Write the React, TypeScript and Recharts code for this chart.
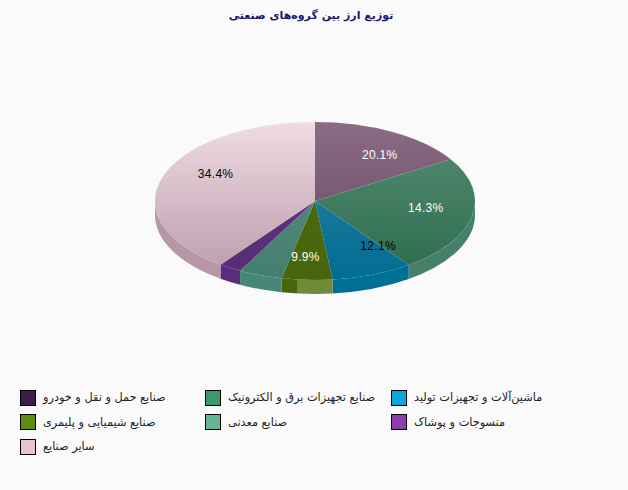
import { PieChart, Pie, Legend } from 'recharts';

const TITLE = 'توزیع ارز بین گروه‌های  صنعتی';

const categories = [
  'صنایع حمل و نقل و خودرو',
  'صنایع تجهیزات برق و الکترونیک',
  'ماشین‌آلات و تجهیزات تولید',
  'صنایع شیمیایی و پلیمری',
  'صنایع معدنی',
  'منسوجات و پوشاک',
  'سایر صنایع',
];

// slice sizes as measured from the drawn pie, they don't agree with the printed labels
const sliceShares = [16.1, 23.9, 8.2, 5.1, 4.4, 2.3, 39.9];
const printedLabels = ['20.1%', '14.3%', '12.1%', '9.9%', '', '', '34.4%'];

const LEGEND_COLORS = ['#3f1d4b', '#3a9a6a', '#0aa6dc', '#5e8c10', '#66b594', '#8a3fae', '#e8c3d3'];
const TOP_COLORS = [
  ['#8a6c84', '#6a445f'],
  ['#548f76', '#2e6a4b'],
  ['#2f86a6', '#006c92'],
  ['#4f6d14', '#47650c'],
  ['#5f9082', '#437e6f'],
  ['#5f3a80', '#582c76'],
  ['#f0dbe4', '#b99ba9'],
];
const WALL_COLORS = ['#5a3a55', '#45806a', '#006f96', '', '#47877a', '#5a2d7c', '#b797a5'];
const LABEL_COLORS = ['#fff', '#fff', '#000', '#fff', '#000', '#000', '#000'];
// small hand nudges so the printed labels land where the original puts them
const LABEL_NUDGE = [[12, 1], [4, -3], [24, -5], [-4, 2], [0, 0], [0, 0], [4, -10]];
const LEGEND_COLS = [20, 205, 391];

const W = 628;
const H = 490;
const CX = 315;
const CY = 201;
const RX = 160;
const RY = 79;
const DEPTH = 14;
const LABEL_R = 0.68;
const FONT = '"DejaVu Sans", sans-serif';

const chartData = categories.map((name, i) => ({ name, share: sliceShares[i], label: printedLabels[i] }));

const pt = (t: number, cx: number, cy: number, rx: number) => {
  const a = (t * Math.PI) / 180;
  return [cx + rx * Math.sin(a), cy - rx * (RY / RX) * Math.cos(a)];
};

// the circle recharts hands us gets squashed into the tilted ellipse
function TopSlice(props: any) {
  const { cx, cy, outerRadius, startAngle, endAngle, index } = props;
  const t0 = 90 - startAngle;
  const t1 = 90 - endAngle;
  const [x0, y0] = pt(t0, cx, cy, outerRadius);
  const [x1, y1] = pt(t1, cx, cy, outerRadius);
  const ry = outerRadius * (RY / RX);
  const large = t1 - t0 > 180 ? 1 : 0;
  return (
    <path
      d={`M${cx},${cy}L${x0},${y0}A${outerRadius},${ry} 0 ${large} 1 ${x1},${y1}Z`}
      fill={`url(#top${index})`}
    />
  );
}

function WallSlice(props: any) {
  const { cx, cy, outerRadius, startAngle, endAngle, index } = props;
  const t0 = Math.max(90 - startAngle, 90);
  const t1 = Math.min(90 - endAngle, 270);
  if (t1 <= t0) return <g />;
  const [x0, y0] = pt(t0, cx, cy, outerRadius);
  const [x1, y1] = pt(t1, cx, cy, outerRadius);
  const ry = outerRadius * (RY / RX);
  const fill = index === 3 ? 'url(#oliveWall)' : WALL_COLORS[index];
  return (
    <path
      d={`M${x0},${y0}A${outerRadius},${ry} 0 0 1 ${x1},${y1}L${x1},${y1 + DEPTH}A${outerRadius},${ry} 0 0 0 ${x0},${y0 + DEPTH}Z`}
      fill={fill}
    />
  );
}

function SliceLabel(props: any) {
  const { cx, cy, outerRadius, midAngle, index } = props;
  const text = printedLabels[index];
  if (!text) return <g />;
  const [x, y] = pt(90 - midAngle, cx, cy, outerRadius * LABEL_R);
  return (
    <text
      x={x + LABEL_NUDGE[index][0]}
      y={y + LABEL_NUDGE[index][1]}
      fill={LABEL_COLORS[index]}
      fontSize={12}
      letterSpacing={0.3}
      fontFamily='"Liberation Sans", sans-serif'
      textAnchor="middle"
      dominantBaseline="central"
    >
      {text}
    </text>
  );
}

function LegendGrid() {
  return (
    <div style={{ position: 'relative', width: W, height: 90 }}>
      {categories.map((name, i) => (
        <div
          key={name}
          style={{
            position: 'absolute',
            left: LEGEND_COLS[i % 3],
            top: Math.floor(i / 3) * 24.5,
            display: 'flex',
            alignItems: 'center',
            height: 17,
            whiteSpace: 'nowrap',
          }}
        >
          <span
            style={{
              width: 14,
              height: 14,
              background: LEGEND_COLORS[i],
              border: '1px solid #000',
              marginRight: 7,
              flex: 'none',
            }}
          />
          <span style={{ fontFamily: FONT, fontSize: 11.3, color: '#222', direction: 'rtl' }}>{name}</span>
        </div>
      ))}
    </div>
  );
}

export default function App() {
  return (
    <div style={{ position: 'absolute', left: 0, top: 0, width: W, height: H, background: '#fafafa', overflow: 'hidden' }}>
      <PieChart width={W} height={H} margin={{ top: 0, right: 0, bottom: 0, left: 0 }}>
        <defs>
          {TOP_COLORS.map((c, i) => (
            <linearGradient key={i} id={`top${i}`} gradientUnits="userSpaceOnUse" x1="0" y1={CY - RY} x2="0" y2={CY + RY}>
              <stop offset="0" stopColor={c[0]} />
              <stop offset="1" stopColor={c[1]} />
            </linearGradient>
          ))}
          <linearGradient id="oliveWall" gradientUnits="userSpaceOnUse" x1="282" y1="0" x2="333" y2="0">
            <stop offset="0.29" stopColor="#47650c" />
            <stop offset="0.29" stopColor="#6f8a38" />
          </linearGradient>
        </defs>
        <text x={311} y={15} textAnchor="middle" dominantBaseline="central" direction="rtl" fontFamily={FONT} fontSize={11} fontWeight="bold" fill="#1a1a6e">
          {TITLE}
        </text>
        <Pie
          data={chartData}
          dataKey="share"
          nameKey="name"
          cx={CX}
          cy={CY}
          outerRadius={RX}
          startAngle={90}
          endAngle={-270}
          stroke="none"
          legendType="none"
          isAnimationActive={false}
          shape={WallSlice}
        />
        <Pie
          data={chartData}
          dataKey="share"
          nameKey="name"
          cx={CX}
          cy={CY}
          outerRadius={RX}
          startAngle={90}
          endAngle={-270}
          stroke="none"
          labelLine={false}
          label={SliceLabel}
          isAnimationActive={false}
          shape={TopSlice}
        />
        <Legend content={<LegendGrid />} layout="horizontal" align="left" verticalAlign="bottom" wrapperStyle={{ left: 0, top: 389, bottom: 'auto', width: W }} />
      </PieChart>
    </div>
  );
}
